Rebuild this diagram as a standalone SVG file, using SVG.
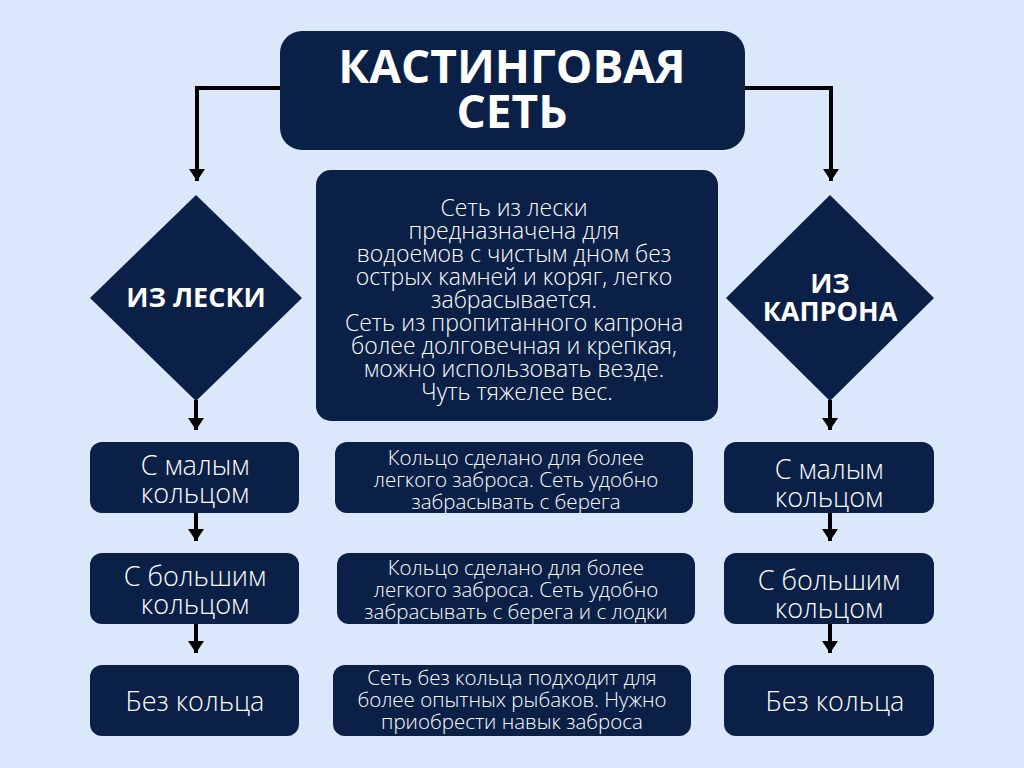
<svg xmlns="http://www.w3.org/2000/svg" width="1024" height="768" viewBox="0 0 1024 768">
<defs>
<style>
.n{fill:#0b2047}
.t{fill:#ffffff;font-family:"Open Sans","Noto Sans","Liberation Sans",sans-serif;text-anchor:middle}
.h{font-weight:700;font-size:46px}
.d{font-weight:700;font-size:27px}
.b{font-weight:300;font-size:27px}
.c{font-weight:300;font-size:23px}
.s{font-weight:300;font-size:20.5px}
</style>
<marker id="a2" viewBox="0 0 16 12" refX="8" refY="12" markerWidth="16" markerHeight="12" markerUnits="userSpaceOnUse" orient="0">
<path d="M0,0 L16,0 L8,12 Z" fill="#000"/>
</marker>
</defs>
<rect width="1024" height="768" fill="#dbe8fb"/>
<g id="connectors" fill="none" stroke="#000" stroke-width="4">
<path d="M280,88 H197 V181" marker-end="url(#a2)"/>
<path d="M745,88 H831 V181" marker-end="url(#a2)"/>
<path d="M196,400 V430" marker-end="url(#a2)"/>
<path d="M196,512 V541" marker-end="url(#a2)"/>
<path d="M196,623 V653" marker-end="url(#a2)"/>
<path d="M830,400 V430" marker-end="url(#a2)"/>
<path d="M830,512 V541" marker-end="url(#a2)"/>
<path d="M830,623 V653" marker-end="url(#a2)"/>
</g>
<g id="title">
<rect class="n" x="280" y="31" width="465" height="119" rx="22"/>
<text class="t h" x="512" y="83">КАСТИНГОВАЯ</text>
<text class="t h" x="512" y="128">СЕТЬ</text>
</g>
<g id="leska">
<polygon class="n" points="196,195 302,298 196,401 90,298"/>
<text class="t d" x="196" y="307">ИЗ ЛЕСКИ</text>
</g>
<g id="kapron">
<polygon class="n" points="830,195 934,298 830,401 726,298"/>
<text class="t d" x="830" y="293">ИЗ</text>
<text class="t d" x="830" y="321">КАПРОНА</text>
</g>
<g id="info">
<rect class="n" x="316" y="170" width="402" height="251" rx="15"/>
<text class="t c" x="517">
<tspan x="517" y="216">Сеть из лески</tspan>
<tspan x="517" y="239">предназначена для</tspan>
<tspan x="517" y="262">водоемов с чистым дном без</tspan>
<tspan x="517" y="285">острых камней и коряг, легко</tspan>
<tspan x="517" y="308">забрасывается.</tspan>
<tspan x="517" y="331">Сеть из пропитанного капрона</tspan>
<tspan x="517" y="354">более долговечная и крепкая,</tspan>
<tspan x="517" y="377">можно использовать везде.</tspan>
<tspan x="517" y="400">Чуть тяжелее вес.</tspan>
</text>
</g>
<g id="l-small">
<rect class="n" x="90" y="442" width="209" height="71" rx="12"/>
<text class="t b" x="195" y="475">С малым</text>
<text class="t b" x="195" y="503">кольцом</text>
</g>
<g id="l-big">
<rect class="n" x="90" y="553" width="209" height="71" rx="12"/>
<text class="t b" x="195" y="586">С большим</text>
<text class="t b" x="195" y="614">кольцом</text>
</g>
<g id="l-none">
<rect class="n" x="90" y="665" width="209" height="71" rx="12"/>
<text class="t b" x="195" y="711">Без кольца</text>
</g>
<g id="r-small">
<rect class="n" x="724" y="442" width="210" height="71" rx="12"/>
<text class="t b" x="829" y="479">С малым</text>
<text class="t b" x="829" y="507">кольцом</text>
</g>
<g id="r-big">
<rect class="n" x="724" y="553" width="210" height="71" rx="12"/>
<text class="t b" x="829" y="590">С большим</text>
<text class="t b" x="829" y="618">кольцом</text>
</g>
<g id="r-none">
<rect class="n" x="724" y="665" width="210" height="71" rx="12"/>
<text class="t b" x="835" y="711">Без кольца</text>
</g>
<g id="m-small">
<rect class="n" x="335" y="442" width="358" height="71" rx="12"/>
<text class="t s" x="516" y="465">Кольцо сделано для более</text>
<text class="t s" x="516" y="487">легкого заброса. Сеть удобно</text>
<text class="t s" x="516" y="509">забрасывать с берега</text>
</g>
<g id="m-big">
<rect class="n" x="337" y="553" width="358" height="71" rx="12"/>
<text class="t s" x="516" y="575">Кольцо сделано для более</text>
<text class="t s" x="516" y="597">легкого заброса. Сеть удобно</text>
<text class="t s" x="516" y="619">забрасывать с берега и с лодки</text>
</g>
<g id="m-none">
<rect class="n" x="333" y="665" width="358" height="71" rx="12"/>
<text class="t s" x="512" y="685">Сеть без кольца подходит для</text>
<text class="t s" x="512" y="707">более опытных рыбаков. Нужно</text>
<text class="t s" x="512" y="729">приобрести навык заброса</text>
</g>
</svg>
